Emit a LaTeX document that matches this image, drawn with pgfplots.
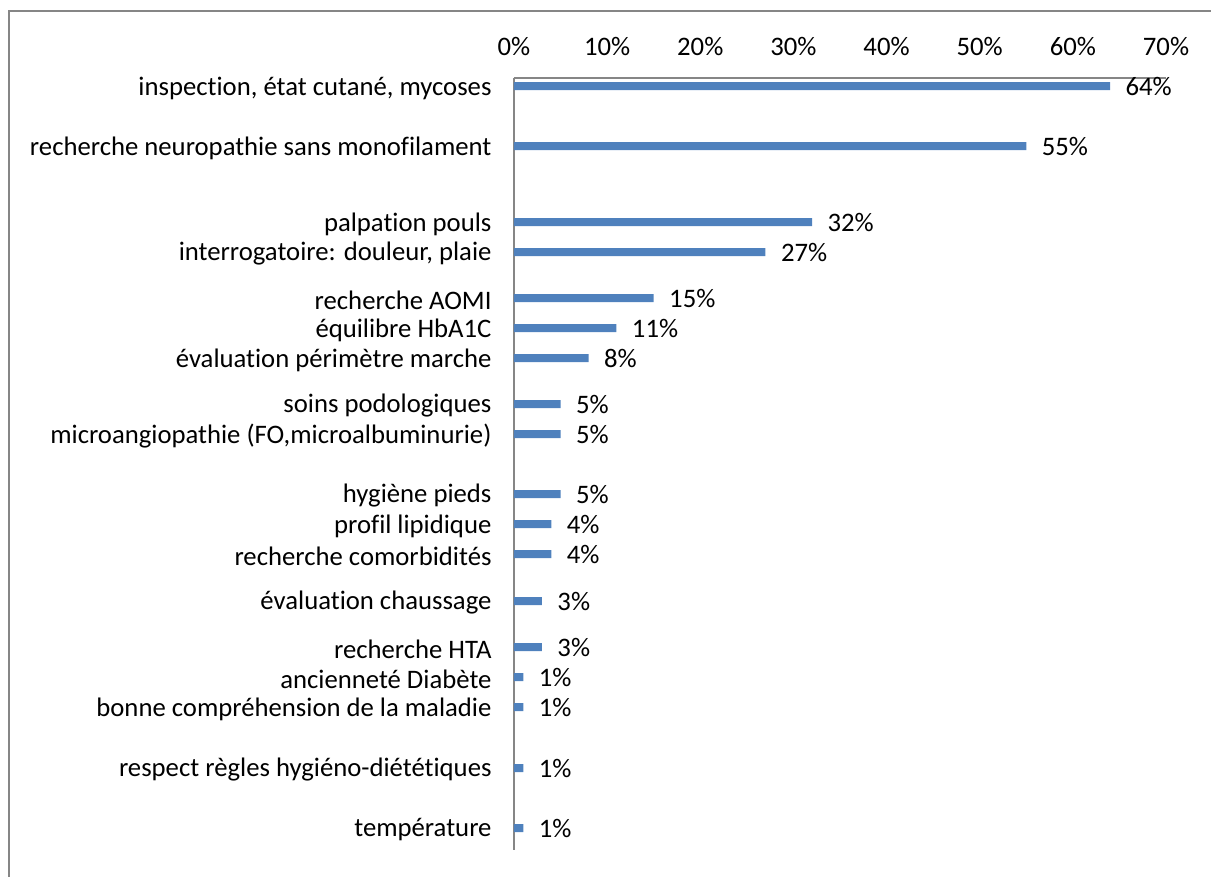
\documentclass[border=0pt]{standalone}
\usepackage{pgfplots}
\pgfplotsset{compat=1.18}
\usepackage{fontspec}
\setmainfont{Carlito}[Ligatures=NoCommon]
\definecolor{barblue}{HTML}{4F81BD}
\definecolor{framegray}{HTML}{868686}
\newcommand{\lblfont}{\fontsize{26.7}{30}\selectfont}

\begin{document}
\begin{tikzpicture}[x=1pt,y=1pt]
\path[use as bounding box] (0,0) rectangle (1211,-877);
\draw[framegray, line width=1.5pt] (9,-877) -- (9,-11) -- (1211,-11);
\begin{axis}[
  at={(514pt,-78pt)}, anchor=north west,
  scale only axis, width=652pt, height=772pt,
  xmin=0, xmax=70, ymin=78, ymax=850, y dir=reverse,
  axis x line*=top, axis y line*=left,
  axis line style={framegray, line width=1.2pt, -},
  xtick={0,10,...,70},
  xticklabel={\pgfmathprintnumber{\tick}\%},
  xticklabel style={yshift=19pt},
  ytick={86,146,222,252,298,328,358,404,434,494,524,554,601,647,677,707,768,828},
  yticklabels={
    {inspection, état cutané, mycoses},
    {recherche neuropathie sans monofilament},
    {palpation pouls},
    {interrogatoire: douleur, plaie},
    {recherche AOMI},
    {équilibre HbA1C},
    {évaluation périmètre marche},
    {soins podologiques},
    {microangiopathie (FO,microalbuminurie)},
    {hygiène pieds},
    {profil lipidique},
    {recherche comorbidités},
    {évaluation chaussage},
    {recherche HTA},
    {ancienneté Diabète},
    {bonne compréhension de la maladie},
    {respect règles hygiéno-diététiques},
    {température}},
  yticklabel style={anchor=east, xshift=-19pt, yshift=-2pt},
  major tick length=0pt,
  tick style={draw=none},
  /pgf/number format/assume math mode=true,
  font=\lblfont,
  ticklabel style={font=\lblfont},
  clip=false,
]
\addplot[xbar, bar width=8pt, fill=barblue, draw=none,
  nodes near coords={\pgfmathprintnumber{\pgfplotspointmeta}\%},
  point meta=x,
  every node near coord/.append style={anchor=west, xshift=12pt, font=\lblfont, text=black}]
  coordinates {
(64,86) (55,146) (32,222) (27,252) (15,298) (11,328) (8,358)
(5,404) (5,434) (5,494) (4,524) (4,554) (3,601) (3,647)
(1,677) (1,707) (1,768) (1,828)
};
\end{axis}
\end{tikzpicture}
\end{document}
